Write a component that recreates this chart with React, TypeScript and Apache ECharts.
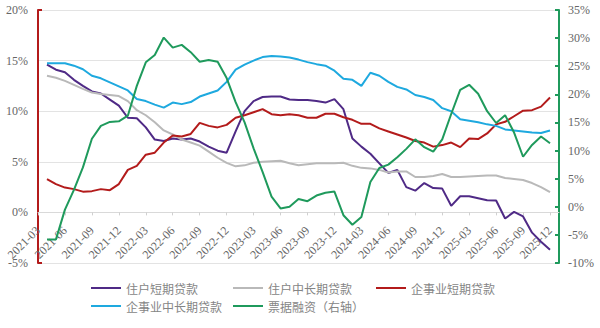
import React, { useEffect, useRef } from "react";
import * as echarts from "echarts";

const axisMonths = [
  "2021-03","2021-04","2021-05","2021-06","2021-07","2021-08","2021-09","2021-10","2021-11","2021-12",
  "2022-01","2022-02","2022-03","2022-04","2022-05","2022-06","2022-07","2022-08","2022-09","2022-10","2022-11","2022-12",
  "2023-01","2023-02","2023-03","2023-04","2023-05","2023-06","2023-07","2023-08","2023-09","2023-10","2023-11","2023-12",
  "2024-01","2024-02","2024-03","2024-04","2024-05","2024-06","2024-07","2024-08","2024-09","2024-10","2024-11","2024-12",
  "2025-01","2025-02","2025-03","2025-04","2025-05","2025-06","2025-07","2025-08","2025-09","2025-10","2025-11","2025-12",
  "2026-01",
];

// data months: 2021-04 .. 2025-12
const dataMonths = axisMonths.slice(1, 58);

const householdShort = [
  14.6, 14.1, 13.85, 13.1, 12.5, 11.95, 11.75, 11.15, 10.55, 9.35,
  9.3, 8.4, 7.2, 7.05, 7.3, 7.2, 7.3, 7.0, 6.5, 6.1,
  5.9, 8.0, 10.0, 11.0, 11.4, 11.45, 11.45, 11.15, 11.1, 11.1,
  11.0, 10.85, 11.2, 10.2, 7.3, 6.5, 5.8, 4.85, 3.9, 4.2,
  2.5, 2.15, 2.9, 2.4, 2.35, 0.65, 1.6, 1.6, 1.4, 1.2,
  1.17, -0.6, 0.05, -0.4, -2.0, -2.9, -3.7,
];

const householdLong = [
  13.5, 13.3, 13.0, 12.6, 12.2, 11.85, 11.7, 11.6, 11.5, 11.0,
  10.1, 9.6, 8.9, 8.1, 7.7, 7.2, 6.9, 6.6, 6.0, 5.4,
  4.9, 4.55, 4.65, 4.9, 5.0, 5.05, 5.1, 4.85, 4.65, 4.75,
  4.85, 4.85, 4.85, 4.9, 4.6, 4.4, 4.35, 4.2, 3.95, 4.05,
  4.05, 3.5, 3.5, 3.6, 3.8, 3.5, 3.5, 3.55, 3.6, 3.65,
  3.65, 3.4, 3.3, 3.2, 2.9, 2.5, 2.0,
];

const corpShort = [
  3.3, 2.8, 2.45, 2.3, 2.05, 2.1, 2.3, 2.2, 2.8, 4.2,
  4.6, 5.7, 5.9, 6.9, 7.6, 7.5, 7.75, 8.85, 8.55, 8.4,
  8.65, 9.35, 9.6, 9.9, 10.2, 9.7, 9.6, 9.7, 9.6, 9.35,
  9.35, 9.75, 9.75, 9.4, 9.15, 8.75, 8.75, 8.3, 8.0, 7.7,
  7.4, 7.05, 6.9, 6.5, 6.65, 6.9, 6.45, 7.3, 7.25, 7.8,
  8.7, 8.95, 9.5, 10.05, 10.1, 10.45, 11.35,
];

const corpLong = [
  14.74, 14.74, 14.74, 14.5, 14.15, 13.5, 13.25, 12.85, 12.45, 12.05,
  11.2, 11.0, 10.65, 10.35, 10.85, 10.7, 10.9, 11.45, 11.75, 12.05,
  12.9, 14.1, 14.6, 15.0, 15.35, 15.45, 15.4, 15.3, 15.1, 14.85,
  14.65, 14.5, 14.0, 13.2, 13.1, 12.5, 13.8, 13.5, 12.9, 12.4,
  12.15, 11.6, 11.4, 11.1, 10.3, 10.0, 9.2, 9.05, 8.9, 8.7,
  8.55, 8.2, 8.1, 8.0, 7.9, 7.85, 8.1,
];

const billFinancing = [
  -5.8, -5.8, -0.5, 3.0, 7.0, 12.1, 14.4, 15.1, 15.2, 16.2,
  21.5, 25.7, 27.0, 30.1, 28.3, 28.8, 27.5, 25.8, 26.1, 25.8,
  22.9, 18.6, 15.0, 10.4, 6.2, 1.8, -0.3, 0.0, 1.4, 1.0,
  2.0, 2.5, 2.7, -1.5, -3.2, -1.8, 4.4, 6.9, 7.5, 8.8,
  10.3, 12.0, 10.6, 9.8, 12.0, 16.5, 20.8, 21.7, 20.1, 17.0,
  14.9, 16.3, 13.2, 8.9, 11.0, 12.5, 11.3,
];

const seriesNames = ["住户短期贷款", "住户中长期贷款", "企事业短期贷款", "企事业中长期贷款", "票据融资（右轴）"];
const seriesColors = ["#4f2a86", "#b9b9b9", "#b31b1b", "#1ea9df", "#1f9a5c"];
const seriesValues = [householdShort, householdLong, corpShort, corpLong, billFinancing];
const seriesAxis = [0, 0, 0, 0, 1];

const leftTicks = { min: -5, max: 20, interval: 5 };
const rightTicks = { min: -10, max: 35, interval: 5 };

const serif = "'Liberation Serif', 'DejaVu Serif', serif";
const cjk = "'Noto Sans CJK SC', sans-serif";

const GRID_TOP = 10;
const GRID_BOTTOM = 65;
const CHART_H = 328;

export default function App() {
  const ref = useRef<HTMLDivElement>(null);
  useEffect(() => {
    document.body.style.margin = "0";
    const chart = echarts.init(ref.current!, null, { renderer: "svg" });
    const gridH = CHART_H - GRID_TOP - GRID_BOTTOM;
    // place the category axis on the 0% level of the left axis
    const zeroOffset = -gridH * (0 - leftTicks.min) / (leftTicks.max - leftTicks.min);
    const legendPos = [
      { left: 91, top: 282 },
      { left: 233, top: 282 },
      { left: 376, top: 282 },
      { left: 91, top: 300 },
      { left: 233, top: 300 },
    ];
    chart.setOption({
      animation: false,
      backgroundColor: "#ffffff",
      grid: { left: 38, right: 41, top: GRID_TOP, bottom: GRID_BOTTOM, containLabel: false },
      legend: seriesNames.map((n, i) => ({
        data: [n],
        left: legendPos[i].left,
        top: legendPos[i].top,
        padding: 0,
        icon: "rect",
        itemWidth: 30,
        itemHeight: 2,
        itemGap: 0,
        textStyle: { fontFamily: cjk, fontSize: 12, color: "#858585" },
      })),
      xAxis: {
        type: "category",
        data: axisMonths,
        boundaryGap: false,
        position: "bottom",
        offset: zeroOffset,
        axisLine: { onZero: false, lineStyle: { color: "#d9d9d9", width: 1 } },
        axisTick: { show: true, interval: 2, length: 3, lineStyle: { color: "#d0d0d0" } },
        axisLabel: {
          interval: 2,
          rotate: 45,
          fontFamily: serif,
          fontSize: 12,
          color: "#666666",
          margin: 16,
        },
        splitLine: { show: false },
      },
      yAxis: [
        {
          type: "value",
          position: "left",
          ...leftTicks,
          axisLine: { show: true, lineStyle: { color: "#b31b1b", width: 2 } },
          axisTick: { show: false },
          axisLabel: { formatter: "{value}%", fontFamily: serif, fontSize: 12, color: "#666666", margin: 10 },
          splitLine: { show: true, lineStyle: { color: "#e3e3e3", width: 1 } },
        },
        {
          type: "value",
          position: "right",
          ...rightTicks,
          axisLine: { show: true, lineStyle: { color: "#1f9a5c", width: 2 } },
          axisTick: { show: true, inside: true, length: 4, lineStyle: { color: "#1f9a5c", width: 2 } },
          axisLabel: { formatter: "{value}%", fontFamily: serif, fontSize: 12, color: "#666666", margin: 9 },
          splitLine: { show: false },
        },
        {
          type: "value",
          position: "left",
          min: leftTicks.min,
          max: leftTicks.max,
          interval: leftTicks.max - leftTicks.min,
          axisLine: { show: false },
          axisTick: { show: true, inside: true, length: 4, lineStyle: { color: "#b31b1b", width: 2 } },
          axisLabel: { show: false },
          splitLine: { show: false },
        },
      ],
      series: seriesNames.map((n, i) => ({
        name: n,
        type: "line",
        yAxisIndex: seriesAxis[i],
        data: dataMonths.map((m, j) => [m, seriesValues[i][j]]),
        showSymbol: false,
        symbol: "none",
        lineStyle: { width: 2, color: seriesColors[i] },
        itemStyle: { color: seriesColors[i] },
      })),
    });
    return () => chart.dispose();
  }, []);
  return <div ref={ref} style={{ width: 600, height: 328 }} />;
}
